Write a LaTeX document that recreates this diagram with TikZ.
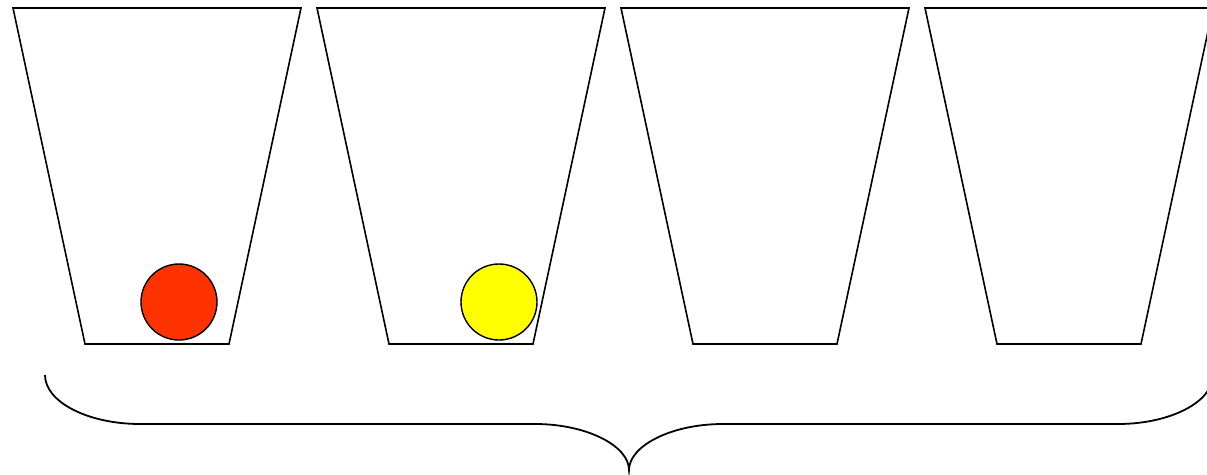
\documentclass[tikz,border=0pt]{standalone}
\begin{document}
\begin{tikzpicture}[x=1pt,y=-1pt,
  cupline/.style={draw=black,line width=1.6pt,line join=miter},
  ball/.style={circle,draw=black,line width=1.4pt,minimum size=76pt,inner sep=0pt},
  braceline/.style={draw=black,line width=1.8pt}]
\useasboundingbox (0,0) rectangle (1207,474);
\clip (0,0) rectangle (1207,474);
\fill[white] (0,0) rectangle (1207,474);
\foreach \i in {0,1,2,3}{
  \draw[cupline] ({13+304*\i},8) -- ({301+304*\i},8) -- ({229+304*\i},344) -- ({85+304*\i},344) -- cycle;
}
\node[ball,fill={rgb,255:red,255;green,51;blue,0}] (redball) at (179,302) {};
\node[ball,fill={rgb,255:red,255;green,255;blue,0}] (yellowball) at (499,302) {};
\draw[braceline] (45,375) .. controls (45,402) and (88,424) .. (140,424)
  -- (535,424) .. controls (587,424) and (629,446) .. (629,470)
  .. controls (629,446) and (671,424) .. (723,424)
  -- (1118,424) .. controls (1170,424) and (1213,402) .. (1213,375);
\end{tikzpicture}
\end{document}
